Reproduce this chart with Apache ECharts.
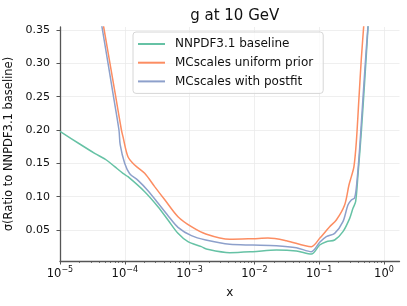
<!DOCTYPE html>
<html>
<head>
<meta charset="utf-8">
<script src="https://cdn.jsdelivr.net/npm/echarts@6/dist/echarts.min.js"></script>
<style>html,body{margin:0;padding:0;background:#fff}#c{width:407px;height:306px}</style>
</head>
<body>
<div id="c"></div>
<script>
// ---- data (x given as log10(x)) ----
const baselineLogX = [-5.0,-4.696,-4.465,-4.284,-4.156,-4.028,-3.951,-3.693,-3.488,-3.333,-3.179,-3.025,-2.818,-2.741,-2.381,-2.022,-1.660,-1.352,-1.120,-0.992,-0.889,-0.761,-0.633,-0.529,-0.478,-0.437,-0.401,-0.349,-0.298,-0.247,-0.221];
const baselineY    = [0.198,0.179,0.165,0.155,0.145,0.135,0.130,0.1075,0.085,0.065,0.045,0.0325,0.025,0.0215,0.016,0.0175,0.020,0.0185,0.014,0.0275,0.0325,0.035,0.0475,0.0675,0.0825,0.0925,0.1325,0.1975,0.2725,0.3525,0.40];

const uniformLogX = [-4.372,-4.326,-4.140,-4.052,-4.028,-3.951,-3.847,-3.693,-3.539,-3.380,-3.179,-2.972,-2.750,-2.381,-2.022,-1.790,-1.506,-1.120,-0.992,-0.838,-0.735,-0.607,-0.540,-0.503,-0.463,-0.426,-0.386,-0.349,-0.313,-0.290];
const uniformY    = [0.38,0.3545,0.25,0.20,0.19,0.160,0.1475,0.135,0.115,0.095,0.070,0.055,0.044,0.036,0.037,0.038,0.034,0.025,0.0375,0.055,0.065,0.0875,0.1175,0.130,0.145,0.1825,0.2475,0.3075,0.355,0.39];

const postfitLogX = [-4.403,-4.352,-4.174,-4.090,-4.071,-4.002,-3.924,-3.796,-3.642,-3.488,-3.333,-3.179,-2.972,-2.750,-2.381,-2.022,-1.660,-1.352,-1.120,-0.992,-0.889,-0.761,-0.633,-0.556,-0.503,-0.452,-0.417,-0.375,-0.324,-0.272,-0.247,-0.228];
const postfitY    = [0.38,0.3545,0.25,0.20,0.178,0.150,0.1345,0.1245,0.109,0.0905,0.0715,0.054,0.0415,0.035,0.0285,0.0275,0.0265,0.0235,0.0175,0.0315,0.040,0.045,0.0625,0.0875,0.095,0.0985,0.1225,0.1725,0.2475,0.3225,0.3545,0.38];

const seriesNames = ['NNPDF3.1 baseline','MCscales uniform prior','MCscales with postfit'];
const xMajorExp = [-5,-4,-3,-2,-1,0];
const yTicks = [0.05,0.10,0.15,0.20,0.25,0.30,0.35];
const titleText = 'g at 10 GeV';
const xName = 'x';
const yName = 'σ(Ratio to NNPDF3.1 baseline)';

// ---- build ----
const zip = (xs, ys) => xs.map((x, i) => [x, ys[i]]);
const minorTicks = [];
for (let e = -5; e <= 0; e++) for (let k = 2; k <= 9; k++) {
  const v = e + Math.log10(k);
  if (v < 0.24) minorTicks.push(v);
}
const FONT = 'DejaVu Sans';
const X_MIN = -5, X_MAX = 0.24, Y_MIN = 0.0035, Y_MAX = 0.3545;
const axisColor = '#555';
const gridColor = '#ebebeb';

const chart = echarts.init(document.getElementById('c'), null, {renderer: 'canvas'});
const colors = ['#66c2a5','#fc8d62','#8da0cb'];
const mkSeries = (name, data, color) => ({
  name, type: 'line', data, xAxisIndex: 0, yAxisIndex: 0,
  symbol: 'none', smooth: 0.3, clip: true,
  lineStyle: {color, width: 1.5}, itemStyle: {color}
});

chart.setOption({
  animation: false,
  textStyle: {fontFamily: FONT},
  title: {text: titleText, left: 229.7, textAlign: 'center', top: 4,
    textStyle: {fontFamily: FONT, fontSize: 15, fontWeight: 'normal', color: '#111'}},
  grid: {left: 60, top: 27, width: 339.5, height: 234, containLabel: false, outerBoundsMode: 'none'},
  legend: {
    orient: 'vertical', left: 133, top: 32,
    padding: [5, 10, 5, 5], itemGap: 4.7, itemWidth: 27, itemHeight: 2, icon: 'rect',
    backgroundColor: 'rgba(255,255,255,0.8)', borderColor: '#d6d6d6', borderWidth: 1, borderRadius: 3,
    textStyle: {fontFamily: FONT, fontSize: 12, color: '#111', lineHeight: 14, padding: [0,0,0,5]},
    data: seriesNames
  },
  xAxis: [{
    type: 'value', min: X_MIN, max: X_MAX, position: 'bottom',
    name: xName, nameLocation: 'middle', nameGap: 26,
    nameTextStyle: {fontFamily: FONT, fontSize: 12, color: '#111'},
    axisLine: {onZero: false, lineStyle: {color: axisColor, width: 1.3}},
    axisTick: {show: true, length: 3.5, customValues: xMajorExp, lineStyle: {color: axisColor, width: 1}},
    splitLine: {show: true, lineStyle: {color: gridColor, width: 0.8}},
    axisLabel: {
      customValues: xMajorExp, margin: 5, color: '#111',
      formatter: v => '{b|10}{s|' + (v < 0 ? '\u2212' + (-v) : String(v)) + '}',
      rich: {
        b: {fontFamily: FONT, fontSize: 11.5, color: '#111', lineHeight: 14, verticalAlign: 'bottom'},
        s: {fontFamily: FONT, fontSize: 8, color: '#111', verticalAlign: 'top', lineHeight: 9}
      }
    }
  }, {
    type: 'value', min: X_MIN, max: X_MAX, position: 'bottom', gridIndex: 0,
    axisLine: {show: false, onZero: false},
    axisTick: {show: true, length: 2, customValues: minorTicks, lineStyle: {color: axisColor, width: 0.8}},
    axisLabel: {show: false}, splitLine: {show: false}
  }],
  yAxis: [{
    type: 'value', min: Y_MIN, max: Y_MAX, position: 'left',
    name: yName, nameLocation: 'middle', nameGap: 40, nameRotate: 90,
    nameTextStyle: {fontFamily: FONT, fontSize: 11.5, color: '#111'},
    axisLine: {show: true, onZero: false, lineStyle: {color: axisColor, width: 1.3}},
    axisTick: {show: true, length: 3.5, customValues: yTicks, lineStyle: {color: axisColor, width: 1}},
    splitLine: {show: true, lineStyle: {color: gridColor, width: 0.8}},
    axisLabel: {customValues: yTicks, margin: 10, color: '#111', fontFamily: FONT, fontSize: 11,
      formatter: v => v.toFixed(2)}
  }],
  series: [
    mkSeries(seriesNames[0], zip(baselineLogX, baselineY), colors[0]),
    mkSeries(seriesNames[1], zip(uniformLogX, uniformY), colors[1]),
    mkSeries(seriesNames[2], zip(postfitLogX, postfitY), colors[2])
  ]
});
</script>
</body>
</html>
